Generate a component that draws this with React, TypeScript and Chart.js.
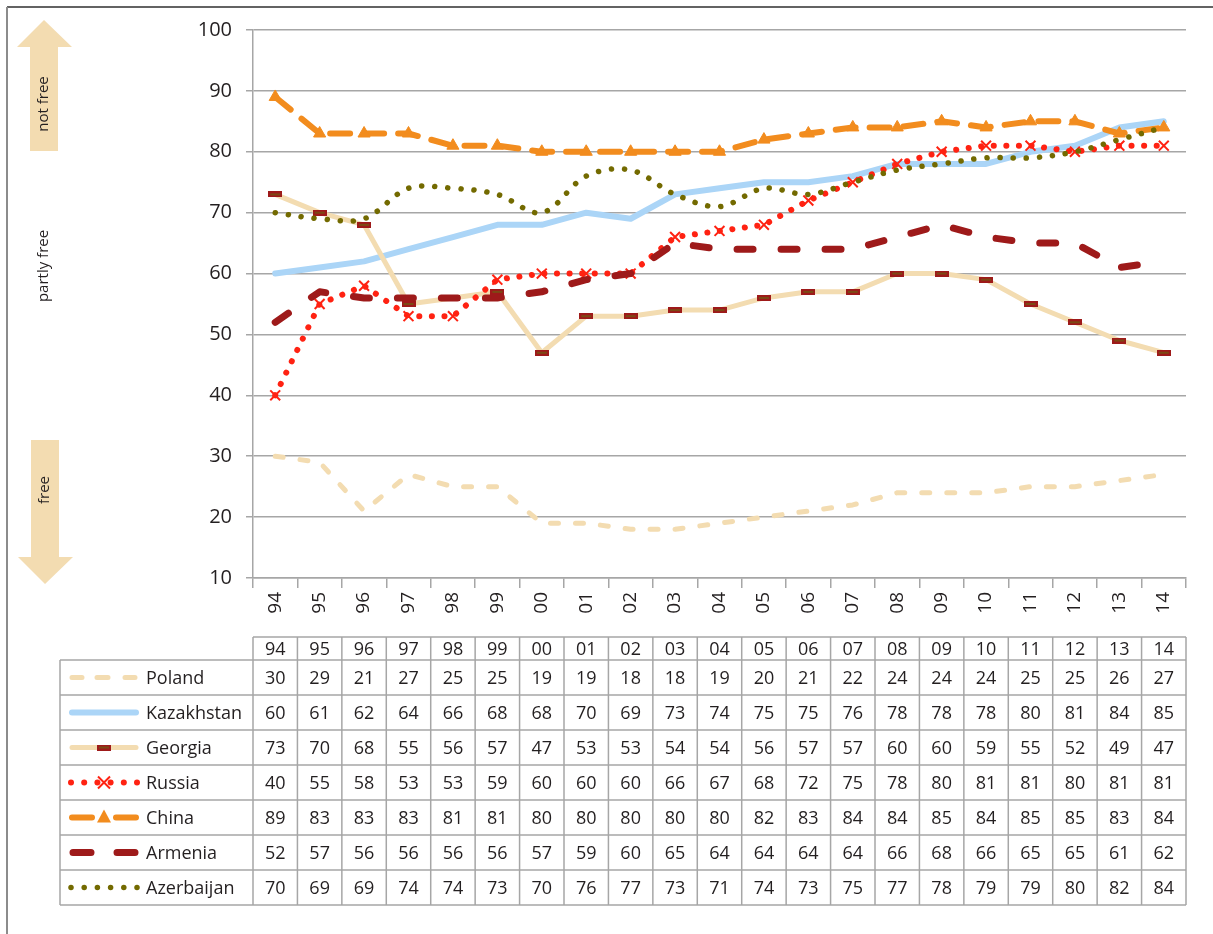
import React, { useEffect, useRef } from "react";
import { Chart, registerables } from "chart.js";
Chart.register(...registerables);

const years = ["94","95","96","97","98","99","00","01","02","03","04","05","06","07","08","09","10","11","12","13","14"];
const poland = [30,29,21,27,25,25,19,19,18,18,19,20,21,22,24,24,24,25,25,26,27];
const kazakhstan = [60,61,62,64,66,68,68,70,69,73,74,75,75,76,78,78,78,80,81,84,85];
const georgia = [73,70,68,55,56,57,47,53,53,54,54,56,57,57,60,60,59,55,52,49,47];
const russia = [40,55,58,53,53,59,60,60,60,66,67,68,72,75,78,80,81,81,80,81,81];
const china = [89,83,83,83,81,81,80,80,80,80,80,82,83,84,84,85,84,85,85,83,84];
const armenia = [52,57,56,56,56,56,57,59,60,65,64,64,64,64,66,68,66,65,65,61,62];
const azerbaijan = [70,69,69,74,74,73,70,76,77,73,71,74,73,75,77,78,79,79,80,82,84];
const seriesNames = ["Poland","Kazakhstan","Georgia","Russia","China","Armenia","Azerbaijan"];
const seriesValues = [poland, kazakhstan, georgia, russia, china, armenia, azerbaijan];
const yMin = 10;
const yMax = 100;
const yStep = 10;
const arrowLabels = ["not free", "partly free", "free"];

const FONT = "'Open Sans', 'Noto Sans', sans-serif";
const TEXT = "#231f20";
const TAN = "#f3dcb1";
const BLUE = "#abd5f7";
const RED = "#ff2212";
const ORANGE = "#f28c1e";
const DARKRED = "#9e1a1a";
const OLIVE = "#736a00";
const GRID = "#a6a6a6";

function makeGeorgiaMarker(): HTMLCanvasElement {
  const c = document.createElement("canvas");
  c.width = 14;
  c.height = 6;
  const g = c.getContext("2d")!;
  g.fillStyle = DARKRED;
  g.fillRect(0, 0, 14, 6);
  g.fillStyle = "#7b4a14";
  g.fillRect(2, 2, 10, 2);
  return c;
}

type Style = {
  color: string;
  width: number;
  dash: number[];
  cap: CanvasLineCap;
  marker?: string;
};

const styles: Style[] = [
  { color: TAN, width: 5, dash: [8, 17], cap: "round" },
  { color: BLUE, width: 6, dash: [], cap: "round" },
  { color: TAN, width: 5, dash: [], cap: "round", marker: "georgia" },
  { color: RED, width: 6, dash: [0.1, 12.5], cap: "round", marker: "cross" },
  { color: ORANGE, width: 6, dash: [20, 14], cap: "round", marker: "triangle" },
  { color: DARKRED, width: 7, dash: [16, 28], cap: "round" },
  { color: OLIVE, width: 5.5, dash: [0.1, 13], cap: "round" },
];

function drawMarker(ctx: CanvasRenderingContext2D, kind: string, x: number, y: number, gm: HTMLCanvasElement) {
  ctx.save();
  ctx.setLineDash([]);
  if (kind === "georgia") {
    ctx.drawImage(gm, x - 7, y - 3);
  } else if (kind === "cross") {
    ctx.strokeStyle = RED;
    ctx.lineWidth = 2;
    const r = 6;
    ctx.beginPath();
    ctx.moveTo(x - r, y - r);
    ctx.lineTo(x + r, y + r);
    ctx.moveTo(x + r, y - r);
    ctx.lineTo(x - r, y + r);
    ctx.stroke();
  } else if (kind === "triangle") {
    ctx.fillStyle = ORANGE;
    ctx.beginPath();
    ctx.moveTo(x, y - 8);
    ctx.lineTo(x + 7, y + 5);
    ctx.lineTo(x - 7, y + 5);
    ctx.closePath();
    ctx.fill();
  }
  ctx.restore();
}

const decorPlugin = (gm: HTMLCanvasElement) => ({
  id: "decor",
  beforeDraw(chart: any) {
    const ctx: CanvasRenderingContext2D = chart.ctx;
    ctx.save();
    ctx.fillStyle = "#ffffff";
    ctx.fillRect(0, 0, chart.width, chart.height);
    // frame
    ctx.strokeStyle = "#2f2f2f";
    ctx.lineWidth = 1.5;
    ctx.beginPath();
    ctx.moveTo(7, 7);
    ctx.lineTo(chart.width, 7);
    ctx.stroke();
    ctx.strokeStyle = "#8c8c8c";
    ctx.lineWidth = 2;
    ctx.beginPath();
    ctx.moveTo(7, 7);
    ctx.lineTo(7, chart.height);
    ctx.stroke();
    // arrows
    ctx.fillStyle = TAN;
    ctx.beginPath();
    ctx.moveTo(44, 20);
    ctx.lineTo(72, 47);
    ctx.lineTo(58, 47);
    ctx.lineTo(58, 151);
    ctx.lineTo(30, 151);
    ctx.lineTo(30, 47);
    ctx.lineTo(17, 47);
    ctx.closePath();
    ctx.fill();
    ctx.beginPath();
    ctx.moveTo(31, 440);
    ctx.lineTo(59, 440);
    ctx.lineTo(59, 557);
    ctx.lineTo(73, 557);
    ctx.lineTo(45, 584);
    ctx.lineTo(18, 557);
    ctx.lineTo(31, 557);
    ctx.closePath();
    ctx.fill();
    ctx.fillStyle = TEXT;
    ctx.font = `15px ${FONT}`;
    ctx.textAlign = "center";
    ctx.textBaseline = "middle";
    const pos = [
      [44, 104],
      [44, 266],
      [45, 490],
    ];
    arrowLabels.forEach((t, i) => {
      ctx.save();
      ctx.translate(pos[i][0], pos[i][1]);
      ctx.rotate(-Math.PI / 2);
      ctx.fillText(t, 0, 0);
      ctx.restore();
    });
    ctx.restore();
  },
  afterDraw(chart: any) {
    const ctx: CanvasRenderingContext2D = chart.ctx;
    const xs = chart.scales.x;
    const left = xs.left;
    const right = xs.right;
    const n = years.length;
    const colW = (right - left) / n;
    const headTop = 637;
    const rowTop = 660;
    const rowH = 35;
    const tableLeft = 60;
    const bottom = rowTop + rowH * seriesNames.length;
    ctx.save();
    ctx.strokeStyle = GRID;
    ctx.lineWidth = 1.5;
    ctx.setLineDash([]);
    // horizontal lines
    ctx.beginPath();
    ctx.moveTo(left, headTop);
    ctx.lineTo(right, headTop);
    for (let r = 0; r <= seriesNames.length; r++) {
      const y = rowTop + r * rowH;
      ctx.moveTo(tableLeft, y);
      ctx.lineTo(right, y);
    }
    // vertical lines
    for (let c = 0; c <= n; c++) {
      const x = left + c * colW;
      ctx.moveTo(x, headTop);
      ctx.lineTo(x, bottom);
    }
    ctx.moveTo(tableLeft, rowTop);
    ctx.lineTo(tableLeft, bottom);
    ctx.stroke();

    ctx.fillStyle = TEXT;
    ctx.font = `18px ${FONT}`;
    ctx.textAlign = "center";
    ctx.textBaseline = "middle";
    years.forEach((yr, c) => {
      const cx = xs.getPixelForValue(c);
      ctx.fillText(yr, cx, (headTop + rowTop) / 2 + 1);
    });
    seriesValues.forEach((vals, r) => {
      const cy = rowTop + r * rowH + rowH / 2 + 1;
      vals.forEach((v, c) => {
        ctx.fillText(String(v), xs.getPixelForValue(c), cy);
      });
    });
    // legend labels
    ctx.textAlign = "left";
    seriesNames.forEach((name, r) => {
      const cy = rowTop + r * rowH + rowH / 2;
      ctx.fillStyle = TEXT;
      ctx.fillText(name, 146, cy + 1);
      const st = styles[r];
      const x0 = 70;
      const x1 = 138;
      ctx.save();
      ctx.strokeStyle = st.color;
      ctx.lineWidth = st.width;
      ctx.lineCap = st.cap;
      if (st.marker === "triangle") {
        ctx.setLineDash([]);
        ctx.beginPath();
        ctx.moveTo(x0 + 2, cy);
        ctx.lineTo(x0 + 22, cy);
        ctx.moveTo(x1 - 22, cy);
        ctx.lineTo(x1 - 2, cy);
        ctx.stroke();
      } else if (r === 5) {
        ctx.setLineDash([]);
        ctx.beginPath();
        ctx.moveTo(x0 + 3, cy);
        ctx.lineTo(x0 + 21, cy);
        ctx.moveTo(x1 - 21, cy);
        ctx.lineTo(x1 - 3, cy);
        ctx.stroke();
      } else if (r === 0) {
        ctx.setLineDash([]);
        ctx.beginPath();
        [[x0 + 2, x0 + 12], [x0 + 27, x0 + 38], [x0 + 55, x1 - 3]].forEach(([a, b]) => {
          ctx.moveTo(a, cy);
          ctx.lineTo(b, cy);
        });
        ctx.stroke();
      } else if (st.dash.length) {
        ctx.fillStyle = st.color;
        const count = 6;
        for (let k = 0; k < count; k++) {
          const dx = x0 + 1 + (k * (x1 - x0 - 2)) / (count - 1);
          ctx.beginPath();
          ctx.arc(dx, cy, st.width / 2, 0, Math.PI * 2);
          ctx.fill();
        }
      } else {
        ctx.setLineDash([]);
        ctx.beginPath();
        ctx.moveTo(x0 + 2, cy);
        ctx.lineTo(x1 - 2, cy);
        ctx.stroke();
      }
      ctx.restore();
      if (st.marker) drawMarker(ctx, st.marker, (x0 + x1) / 2, cy, gm);
    });
    ctx.restore();
  },
});

export default function App() {
  const ref = useRef<HTMLCanvasElement>(null);
  useEffect(() => {
    const canvas = ref.current!;
    const gm = makeGeorgiaMarker();
    const datasets = seriesNames.map((name, i) => {
      const st = styles[i];
      const ds: any = {
        label: name,
        data: seriesValues[i],
        borderColor: st.color,
        backgroundColor: st.color,
        borderWidth: st.width,
        borderDash: st.dash,
        borderCapStyle: st.cap,
        borderJoinStyle: "round",
        pointRadius: 0,
        tension: 0,
        order: seriesNames.length - 1 - i,
        fill: false,
      };
      if (st.marker === "georgia") {
        ds.pointStyle = gm;
        ds.pointRadius = 7;
      } else if (st.marker === "cross") {
        ds.pointStyle = "crossRot";
        ds.pointRadius = 7;
        ds.pointBorderWidth = 2;
        ds.pointBorderColor = RED;
      } else if (st.marker === "triangle") {
        ds.pointStyle = "triangle";
        ds.pointRadius = 7;
        ds.pointBorderWidth = 1;
        ds.pointBackgroundColor = ORANGE;
        ds.pointBorderColor = ORANGE;
      }
      if (name === "Azerbaijan") ds.tension = 0.35;
      return ds;
    });
    const chart = new Chart(canvas, {
      type: "line",
      data: { labels: years, datasets },
      options: {
        responsive: false,
        animation: false,
        events: [],
        layout: { padding: { left: 0, top: 30, right: 27, bottom: 0 } },
        plugins: { legend: { display: false }, tooltip: { enabled: false } },
        scales: {
          x: {
            type: "category",
            offset: true,
            grid: {
              display: true,
              offset: true,
              drawOnChartArea: false,
              drawTicks: true,
              tickLength: 10,
              color: GRID,
              lineWidth: 1.5,
            },
            border: { display: true, color: GRID, width: 1.5 },
            ticks: {
              autoSkip: false,
              maxRotation: 90,
              minRotation: 90,
              padding: 4,
              color: TEXT,
              font: { family: FONT, size: 19 },
            },
            afterFit(scale: any) {
              scale.height = 934 - 578;
            },
          },
          y: {
            min: yMin,
            max: yMax,
            ticks: {
              stepSize: yStep,
              padding: 14,
              color: TEXT,
              font: { family: FONT, size: 20 },
            },
            grid: { color: GRID, lineWidth: 1.5, tickLength: 7 },
            border: { display: true, color: GRID, width: 1.5 },
            afterFit(scale: any) {
              scale.width = 253;
            },
          },
        },
      },
      plugins: [decorPlugin(gm)],
    });
    return () => chart.destroy();
  }, []);
  return (
    <div style={{ position: "absolute", left: 0, top: 0, width: 1213, height: 934 }}>
      <canvas ref={ref} width={1213} height={934} style={{ display: "block" }} />
    </div>
  );
}
